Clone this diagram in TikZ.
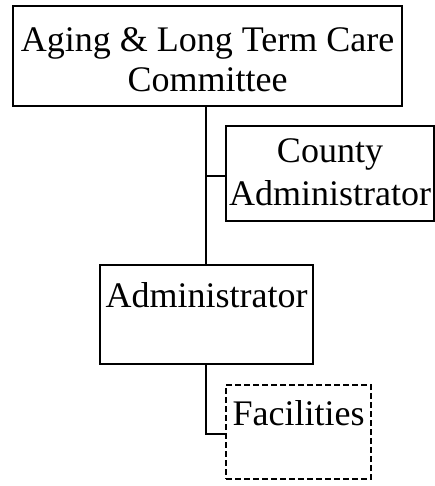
\documentclass[tikz,border=0pt]{standalone}
\usepackage{fontspec}
\setmainfont{Liberation Serif}
\begin{document}
\begin{tikzpicture}[x=1pt,y=1pt,
  orgbox/.style={draw,line width=2.5pt,inner sep=0pt,fill=white},
  dashbox/.style={orgbox,dash pattern=on 6pt off 3pt},
  lbl/.style={anchor=base,inner sep=0pt,font=\fontsize{36}{40}\selectfont},
  conn/.style={line width=2.5pt}]
\useasboundingbox (0,0) rectangle (435,-486);
\node[orgbox,minimum width=389pt,minimum height=100pt] (top) at (207.5,-56) {};
\node[orgbox,minimum width=208pt,minimum height=95pt] (county) at (330,-173.5) {};
\node[orgbox,minimum width=213pt,minimum height=99pt] (admin) at (206.5,-314.5) {};
\node[dashbox,minimum width=145pt,minimum height=94pt] (fac) at (298.5,-432) {};
\coordinate (j1) at (206,-176);
\coordinate (j2) at (206,-434);
\draw[conn] (top.south -| j1) -- (admin.north -| j1);
\draw[conn] (j1) -- (j1 -| county.west);
\draw[conn] (admin.south -| j2) -- (j2) -- (j2 -| fac.west);
\node[lbl] (t1) at (207.5,-52) {Aging \& Long Term Care};
\node[lbl] (t2) at (207.5,-92) {Committee};
\node[lbl] (c1) at (330,-163) {County};
\node[lbl] (c2) at (330,-205) {Administrator};
\node[lbl] (a1) at (206.5,-307) {Administrator};
\node[lbl] (f1) at (298.5,-425) {Facilities};
\end{tikzpicture}
\end{document}
